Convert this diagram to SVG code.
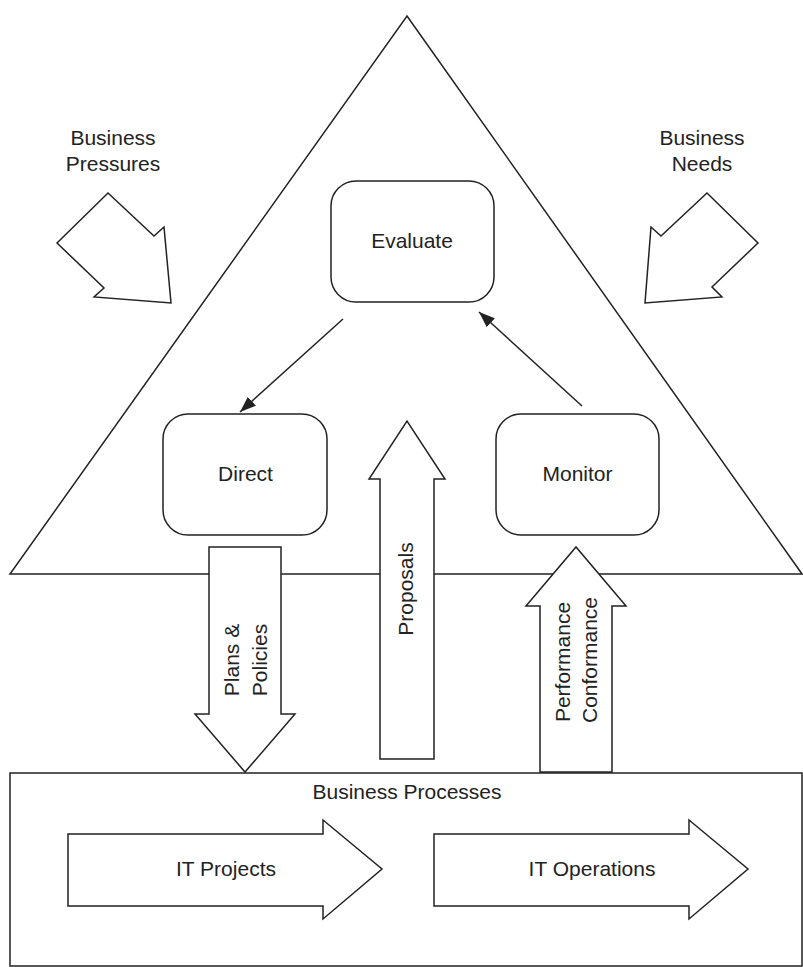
<svg xmlns="http://www.w3.org/2000/svg" width="803" height="967" viewBox="0 0 803 967">
  <style>
    .shape { fill: #ffffff; stroke: #222222; stroke-width: 1.5; stroke-linejoin: miter; }
    .line { fill: none; stroke: #222222; stroke-width: 1.5; }
    .label { font-family: "Liberation Sans", Arial, sans-serif; font-size: 21px; fill: #222222; text-anchor: middle; }
  </style>
  <defs>
    <marker id="arrowhead" markerUnits="userSpaceOnUse" markerWidth="16" markerHeight="12" refX="16" refY="6" orient="auto">
      <path d="M0,0 L16,6 L0,12 z" fill="#222222"/>
    </marker>
  </defs>

  <rect width="803" height="967" fill="#ffffff"/>

  <!-- governance triangle -->
  <g id="triangle">
    <polygon class="shape" points="407,16 802,574 10,574"/>
  </g>

  <!-- external inputs -->
  <g id="business-pressures">
    <polygon class="shape" points="57,243 108,193 154,236 164,227 171,303 94,297 104,288"/>
    <text class="label" x="113" y="145">Business</text>
    <text class="label" x="113" y="171">Pressures</text>
  </g>
  <g id="business-needs">
    <polygon class="shape" points="707,193 758,243 712,287 722,297 645,303 651,227 661,236"/>
    <text class="label" x="702" y="145">Business</text>
    <text class="label" x="702" y="171">Needs</text>
  </g>

  <!-- core activities -->
  <g id="evaluate">
    <rect class="shape" x="331" y="181" width="163" height="121" rx="25" ry="25"/>
    <text class="label" x="412" y="248">Evaluate</text>
  </g>
  <g id="direct">
    <rect class="shape" x="163" y="414" width="164" height="121" rx="25" ry="25"/>
    <text class="label" x="245.5" y="481">Direct</text>
  </g>
  <g id="monitor">
    <rect class="shape" x="496" y="414" width="163" height="121" rx="25" ry="25"/>
    <text class="label" x="577.5" y="481">Monitor</text>
  </g>

  <!-- connectors between activities -->
  <g id="connectors">
    <line class="line" x1="343" y1="319" x2="240" y2="412" marker-end="url(#arrowhead)"/>
    <line class="line" x1="582" y1="406" x2="479" y2="312" marker-end="url(#arrowhead)"/>
  </g>

  <!-- business processes -->
  <g id="business-processes">
    <rect class="shape" x="10" y="773" width="792" height="193"/>
    <text class="label" x="407" y="799">Business Processes</text>
  </g>
  <g id="it-projects">
    <polygon class="shape" points="68,834 323,834 323,820 382,869 323,919 323,906 68,906"/>
    <text class="label" x="226" y="876">IT Projects</text>
  </g>
  <g id="it-operations">
    <polygon class="shape" points="434,834 689,834 689,820 748,869 689,919 689,906 434,906"/>
    <text class="label" x="592" y="876">IT Operations</text>
  </g>

  <!-- vertical flows -->
  <g id="plans-policies">
    <polygon class="shape" points="209,547 281,547 281,714 295,714 245,772 195,714 209,714"/>
    <text class="label" transform="translate(239,660) rotate(-90)">Plans &amp;</text>
    <text class="label" transform="translate(267,660) rotate(-90)">Policies</text>
  </g>
  <g id="proposals">
    <polygon class="shape" points="380,759 380,479 369,479 407,421 445,479 434,479 434,759"/>
    <text class="label" transform="translate(413,589) rotate(-90)">Proposals</text>
  </g>
  <g id="performance-conformance">
    <polygon class="shape" points="540,772 540,606 526,606 576,547 626,606 612,606 612,772"/>
    <text class="label" transform="translate(570,662) rotate(-90)">Performance</text>
    <text class="label" transform="translate(597,660) rotate(-90)">Conformance</text>
  </g>
</svg>
